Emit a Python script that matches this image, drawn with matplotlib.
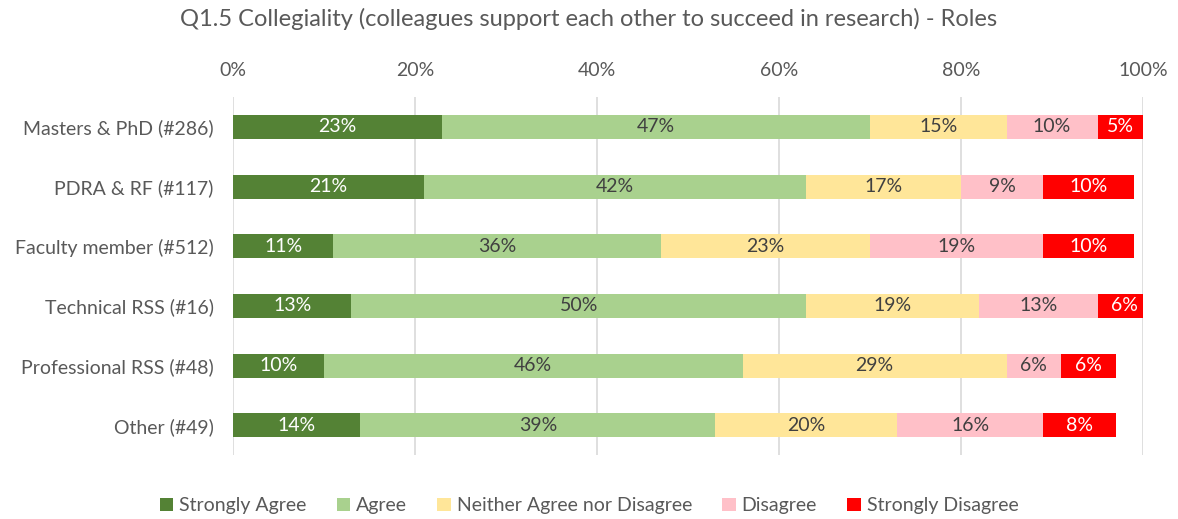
import matplotlib
matplotlib.use("Agg")
import matplotlib.pyplot as plt
import numpy as np
from matplotlib.ticker import FuncFormatter

plt.rcParams["font.family"] = ["Lato", "DejaVu Sans"]

roles = [
    "Masters & PhD (#286)",
    "PDRA & RF (#117)",
    "Faculty member (#512)",
    "Technical RSS (#16)",
    "Professional RSS (#48)",
    "Other (#49)",
]
responses = [
    "Strongly Agree",
    "Agree",
    "Neither Agree nor Disagree",
    "Disagree",
    "Strongly Disagree",
]
strongly_agree = [23, 21, 11, 13, 10, 14]
agree = [47, 42, 36, 50, 46, 39]
neither = [15, 17, 23, 19, 29, 20]
disagree = [10, 9, 19, 13, 6, 16]
strongly_disagree = [5, 10, 10, 6, 6, 8]

colors = ["#548235", "#A9D18E", "#FFE699", "#FFC0C8", "#FF0000"]
label_colors = ["white", "#404040", "#404040", "#404040", "white"]
text_grey = "#595959"

series = [strongly_agree, agree, neither, disagree, strongly_disagree]

fig = plt.figure(figsize=(11.78, 5.19), dpi=100)
ax = fig.add_axes([0.1978, 0.123, 0.7725, 0.69])

y = np.arange(len(roles))
left = np.zeros(len(roles))
for vals, name, col, tcol in zip(series, responses, colors, label_colors):
    vals = np.array(vals, dtype=float)
    bars = ax.barh(y, vals, left=left, height=0.4, color=col, label=name, zorder=3)
    for rect, v in zip(bars, vals):
        ax.text(rect.get_x() + rect.get_width() / 2, rect.get_y() + rect.get_height() / 2,
                f"{v:.0f}%", ha="center", va="center", color=tcol, fontsize=14, zorder=4)
    left += vals

ax.set_xlim(0, 100)
ax.set_ylim(len(roles) - 0.5, -0.5)
ax.set_xticks(np.arange(0, 101, 20))
ax.xaxis.set_major_formatter(FuncFormatter(lambda v, _: f"{v:.0f}%"))
ax.xaxis.tick_top()
ax.set_yticks(y)
ax.set_yticklabels(roles)
ax.tick_params(axis="both", length=0, labelsize=14, labelcolor=text_grey)
ax.tick_params(axis="x", pad=13)
ax.tick_params(axis="y", pad=14)
ax.grid(axis="x", color="#D9D9D9", linewidth=1.2, zorder=0)
for s in ax.spines.values():
    s.set_visible(False)

fig.suptitle("Q1.5 Collegiality (colleagues support each other to succeed in research) - Roles",
             y=0.985, fontsize=17, color=text_grey)

handles, labels = ax.get_legend_handles_labels()
fig.legend(handles, labels, loc="lower center", bbox_to_anchor=(0.5, -0.025), ncol=5,
           frameon=False, fontsize=14, labelcolor=text_grey, handlelength=0.7,
           handleheight=0.7, handletextpad=0.3, columnspacing=1.55)

fig.savefig("out.png", dpi=100)
